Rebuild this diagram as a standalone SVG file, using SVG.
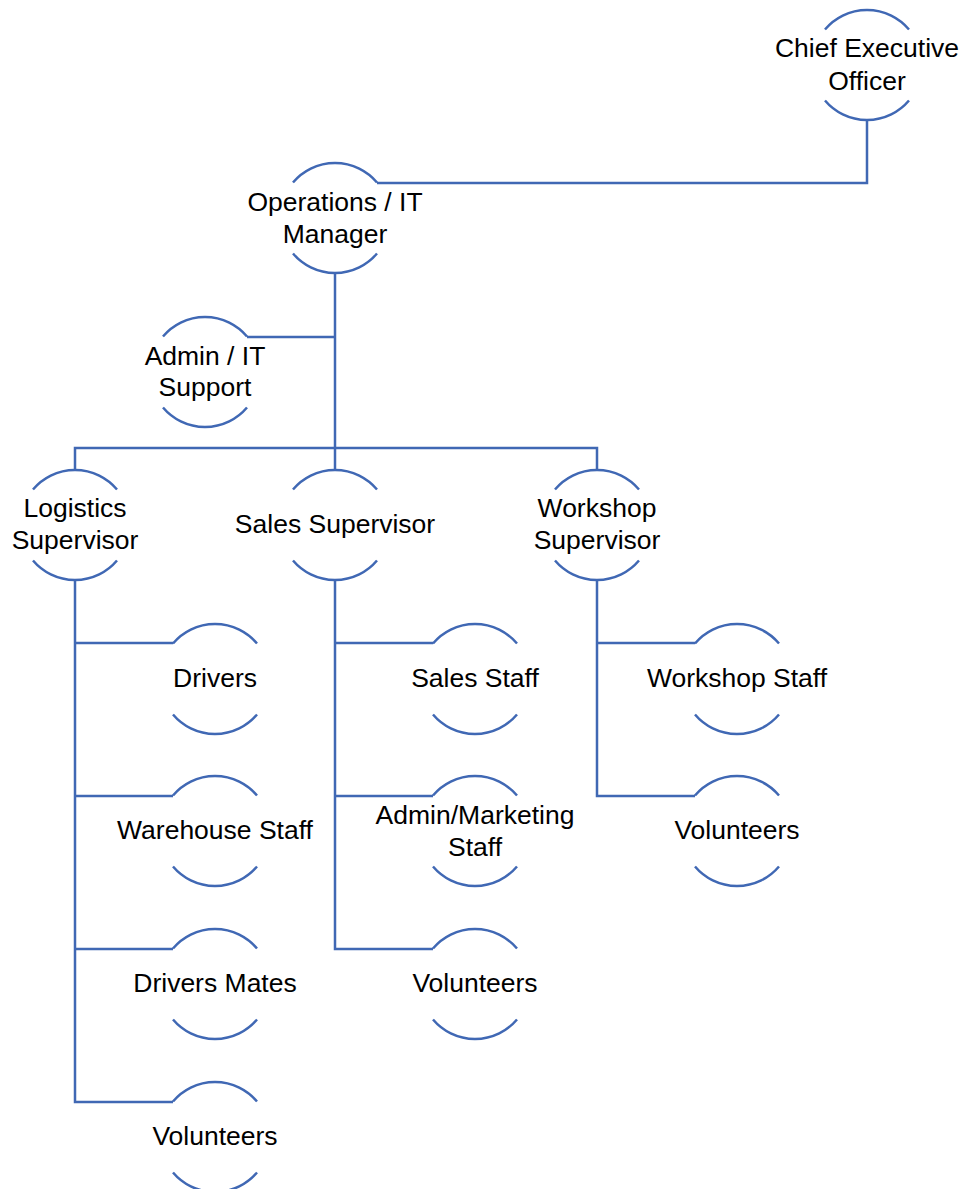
<svg xmlns="http://www.w3.org/2000/svg" xmlns:xlink="http://www.w3.org/1999/xlink" width="960" height="1189" viewBox="0 0 960 1189">
<style>
.arc{fill:none;stroke:#4068B4;stroke-width:2.5}
.conn{fill:none;stroke:#4068B4;stroke-width:2.5}
text{font-family:"Liberation Sans",Arial,sans-serif;font-size:26.5px;fill:#000;text-anchor:middle}
</style>
<defs>
<g id="arcs">
<path class="arc" d="M-42,-35.5 A55,55 0 0 1 42,-35.5"/>
<path class="arc" d="M-42,35.5 A55,55 0 0 0 42,35.5"/>
</g>
</defs>
<rect width="960" height="1189" fill="#fff"/>
<g id="connectors">
<path class="conn" d="M867,120 V183 H377"/>
<path class="conn" d="M335,273 V448"/>
<path class="conn" d="M335,337 H247"/>
<path class="conn" d="M75,470 V448 H597 V470"/>
<path class="conn" d="M335,448 V470"/>
<path class="conn" d="M75,580 V1102 H173"/>
<path class="conn" d="M75,643 H173 M75,796 H173 M75,949 H173"/>
<path class="conn" d="M335,580 V949 H433 M335,643 H433 M335,796 H433"/>
<path class="conn" d="M597,580 V796 H695 M597,643 H695"/>
</g>
<g id="ceo" transform="translate(867,65)"><use xlink:href="#arcs"/><text y="-8">Chief Executive</text><text y="25">Officer</text></g>
<g id="ops" transform="translate(335,218)"><use xlink:href="#arcs"/><text y="-7">Operations / IT</text><text y="25">Manager</text></g>
<g id="adminit" transform="translate(205,372)"><use xlink:href="#arcs"/><text y="-7">Admin / IT</text><text y="24">Support</text></g>
<g id="logistics" transform="translate(75,525)"><use xlink:href="#arcs"/><text y="-8">Logistics</text><text y="24">Supervisor</text></g>
<g id="sales" transform="translate(335,525)"><use xlink:href="#arcs"/><text y="8">Sales Supervisor</text></g>
<g id="workshop" transform="translate(597,525)"><use xlink:href="#arcs"/><text y="-8">Workshop</text><text y="24">Supervisor</text></g>
<g id="drivers" transform="translate(215,679)"><use xlink:href="#arcs"/><text y="8">Drivers</text></g>
<g id="warehouse" transform="translate(215,831)"><use xlink:href="#arcs"/><text y="8">Warehouse Staff</text></g>
<g id="mates" transform="translate(215,984)"><use xlink:href="#arcs"/><text y="8">Drivers Mates</text></g>
<g id="vol1" transform="translate(215,1137)"><use xlink:href="#arcs"/><text y="8">Volunteers</text></g>
<g id="salesstaff" transform="translate(475,679)"><use xlink:href="#arcs"/><text y="8">Sales Staff</text></g>
<g id="adminmkt" transform="translate(475,831)"><use xlink:href="#arcs"/><text y="-7">Admin/Marketing</text><text y="25">Staff</text></g>
<g id="vol2" transform="translate(475,984)"><use xlink:href="#arcs"/><text y="8">Volunteers</text></g>
<g id="wsstaff" transform="translate(737,679)"><use xlink:href="#arcs"/><text y="8">Workshop Staff</text></g>
<g id="vol3" transform="translate(737,831)"><use xlink:href="#arcs"/><text y="8">Volunteers</text></g>
</svg>
